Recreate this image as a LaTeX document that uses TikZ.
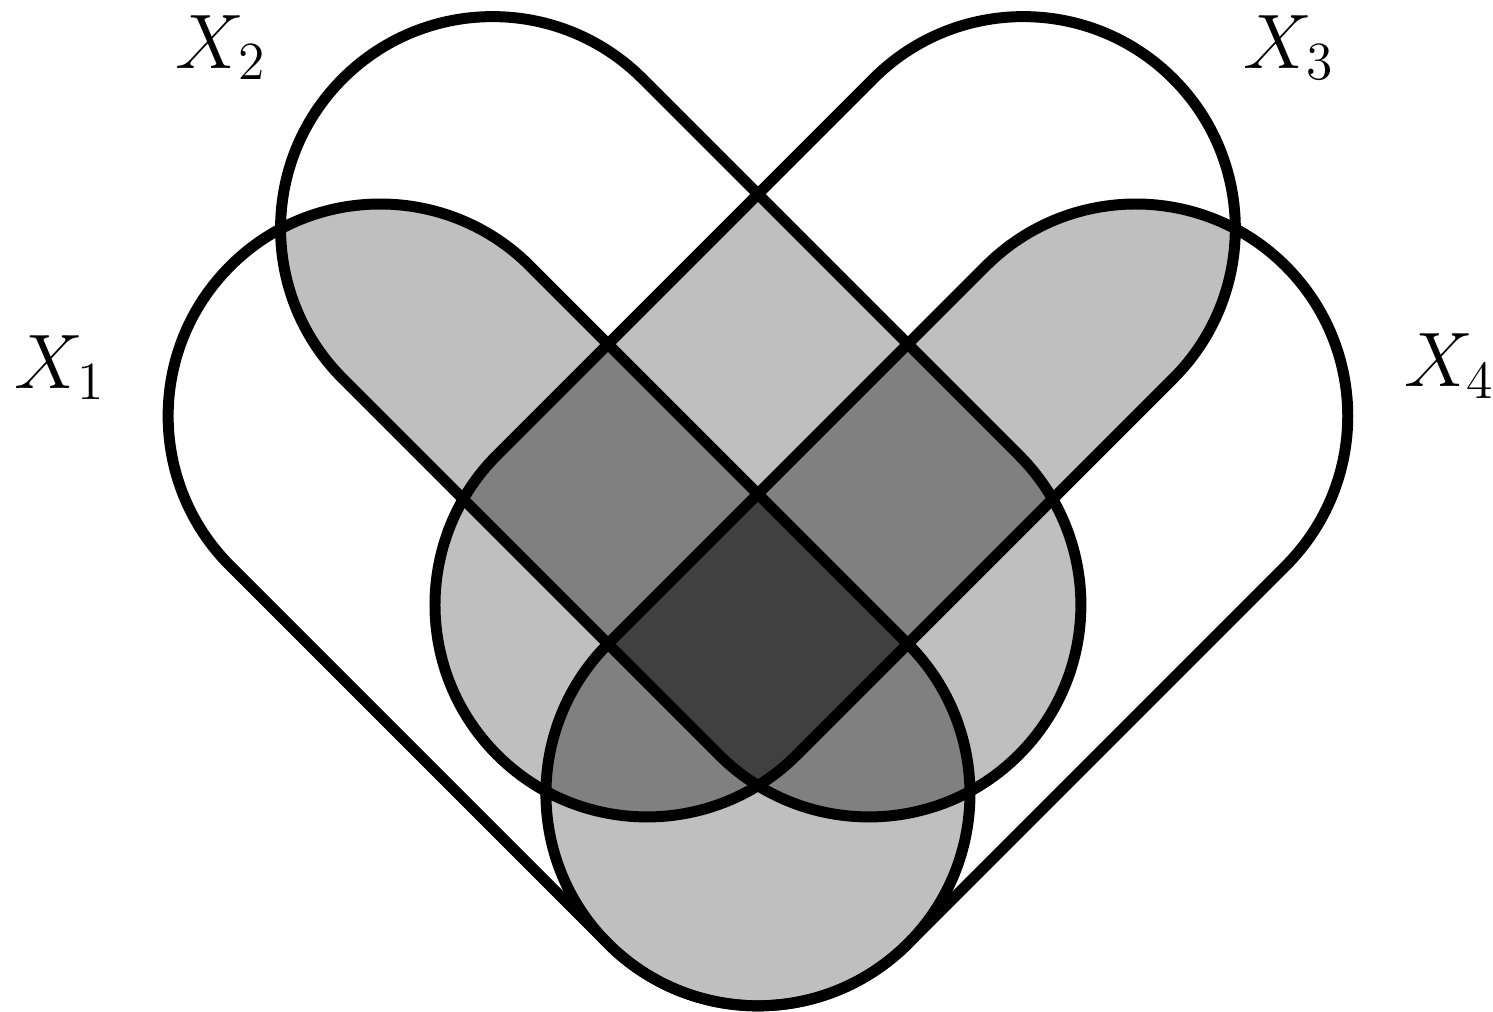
\documentclass[tikz,border=0pt]{standalone}
\usepackage{amsmath,amssymb}
\usepackage{tikz}

% the four sets, in a frame turned by 45 degrees (unit = cap radius)
\newcommand{\setone}{(0,-1) -- (0,1.52) arc[start angle=0,end angle=180,radius=1] -- (-2,-1) arc[start angle=180,end angle=360,radius=1] -- cycle}
\newcommand{\settwo}{(1,-0.74) -- (1,1.77) arc[start angle=0,end angle=180,radius=1] -- (-1,-0.74) arc[start angle=180,end angle=360,radius=1] -- cycle}
\newcommand{\setthree}{(-0.74,-1) -- (1.77,-1) arc[start angle=-90,end angle=90,radius=1] -- (-0.74,1) arc[start angle=90,end angle=270,radius=1] -- cycle}
\newcommand{\setfour}{(-1,-2) -- (1.52,-2) arc[start angle=-90,end angle=90,radius=1] -- (-1,0) arc[start angle=90,end angle=270,radius=1] -- cycle}

\tikzset{
  pairfill/.style={fill=black!25},
  triplefill/.style={fill=black!50},
  quadfill/.style={fill=black!75},
  setline/.style={draw=black,line width=2.95pt},
  setlabel/.style={font=\fontsize{19.2}{23}\selectfont}
}

\begin{document}
\begin{tikzpicture}[scale=2]
  \useasboundingbox (-3.575,-2.443) rectangle (3.467,2.330);
  \begin{scope}[rotate=45]
    % exactly two sets
    \begin{scope}\clip \setone; \fill[pairfill] \settwo; \end{scope}
    \begin{scope}\clip \setone; \fill[pairfill] \setthree; \end{scope}
    \begin{scope}\clip \setone; \fill[pairfill] \setfour; \end{scope}
    \begin{scope}\clip \settwo; \fill[pairfill] \setthree; \end{scope}
    \begin{scope}\clip \settwo; \fill[pairfill] \setfour; \end{scope}
    \begin{scope}\clip \setthree; \fill[pairfill] \setfour; \end{scope}
    % three sets
    \begin{scope}\clip \setone; \clip \settwo; \fill[triplefill] \setthree; \end{scope}
    \begin{scope}\clip \setone; \clip \settwo; \fill[triplefill] \setfour; \end{scope}
    \begin{scope}\clip \setone; \clip \setthree; \fill[triplefill] \setfour; \end{scope}
    \begin{scope}\clip \settwo; \clip \setthree; \fill[triplefill] \setfour; \end{scope}
    % all four
    \begin{scope}\clip \setone; \clip \settwo; \clip \setthree; \fill[quadfill] \setfour; \end{scope}
    % outlines
    \draw[setline] \setone;
    \draw[setline] \settwo;
    \draw[setline] \setthree;
    \draw[setline] \setfour;
  \end{scope}
  \node[setlabel] (x1) at (-3.290,0.597) {$X_1$};
  \node[setlabel] (x2) at (-2.531,2.106) {$X_2$};
  \node[setlabel] (x3) at (2.505,2.106) {$X_3$};
  \node[setlabel] (x4) at (3.262,0.602) {$X_4$};
\end{tikzpicture}
\end{document}
